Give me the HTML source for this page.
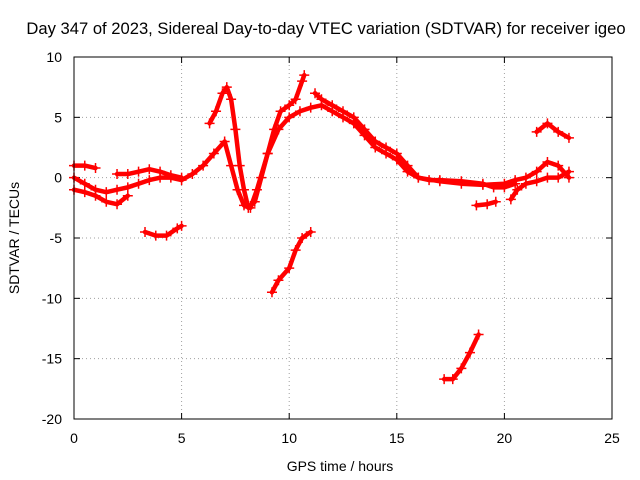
<!DOCTYPE html>
<html><head><meta charset="utf-8"><style>
body{margin:0;background:#fff}
svg{display:block;font-family:"Liberation Sans",sans-serif}
</style></head><body>
<svg width="640" height="480">
<rect width="640" height="480" fill="#fff"/>
<text x="326" y="34" text-anchor="middle" font-size="16.6">Day 347 of 2023, Sidereal Day-to-day VTEC variation (SDTVAR) for receiver igeo</text>
<text x="340" y="471" text-anchor="middle" font-size="14">GPS time / hours</text>
<text transform="translate(19,238) rotate(-90)" text-anchor="middle" font-size="14">SDTVAR / TECUs</text>
<g id="grid"></g><g id="ticks"></g><g id="marks"></g>
<rect x="74" y="57" width="538" height="362" fill="none" stroke="#000"/>
</svg>
<script>
const xTicks=[0,5,10,15,20,25];
const yTicks=[10,5,0,-5,-10,-15,-20];
const t1=[[0,1.0],[0.5,1.0],[1,0.8]];
const t2=[[0,0],[0.5,-0.5],[1,-1],[1.5,-1.2],[2,-1],[2.5,-0.8],[3,-0.5],[3.5,-0.2],[4,0],[4.5,0],[5,-0.2],[5.5,0.3],[6,1],[6.5,2],[7,3],[7.3,1],[7.6,-1],[7.9,-2.3],[8.2,-2.5],[8.5,-1],[9,2],[9.5,4],[10,5],[10.5,5.5],[11,5.8],[11.5,6],[12,5.5],[12.5,5],[13,4.5],[13.5,3.5],[14,2.5],[14.5,2],[15,1.5],[15.5,0.5],[16,0],[17,-0.3],[18,-0.5],[19,-0.6],[20,-0.5],[20.5,-0.2],[21,0],[21.5,0.5],[22,1.3],[22.5,1],[23,0]];
const t3=[[0,-1],[0.5,-1.2],[1,-1.5],[1.5,-2],[2,-2.2],[2.5,-1.5]];
const t4=[[2,0.3],[2.5,0.3],[3,0.5],[3.5,0.7],[4,0.5],[4.5,0.2],[5,0]];
const t5=[[3.3,-4.5],[3.8,-4.8],[4.3,-4.8],[4.8,-4.2],[5,-4]];
const t6=[[6.3,4.5],[6.6,5.5],[6.9,7],[7.1,7.5],[7.3,6.5],[7.5,4],[7.7,1],[7.9,-1],[8.1,-2.5],[8.4,-2],[8.7,0],[9,2],[9.3,4],[9.6,5.5],[10,6],[10.3,6.5],[10.6,8],[10.7,8.5]];
const t7=[[9.2,-9.5],[9.5,-8.5],[10,-7.5],[10.3,-6],[10.6,-5],[11,-4.5]];
const t8=[[11.2,7],[11.5,6.5],[12,6],[12.5,5.5],[13,5],[13.5,4],[14,3],[14.5,2.5],[15,2],[15.5,1],[16,0],[16.5,-0.2],[17,-0.2],[18,-0.3],[19,-0.5],[19.5,-0.8],[20,-0.8],[20.5,-0.5]];
const t9=[[17.2,-16.7],[17.6,-16.7],[18,-15.8],[18.4,-14.5],[18.8,-13]];
const t10=[[18.7,-2.3],[19.2,-2.2],[19.6,-2]];
const t11=[[20.3,-1.8],[20.6,-1],[21,-0.5],[21.5,-0.3],[22,0],[22.5,0],[23,0.5]];
const t12=[[21.5,3.8],[22,4.5],[22.5,3.8],[23,3.3]];
const tracks=[t1,t2,t3,t4,t5,t6,t7,t8,t9,t10,t11,t12];
const X=v=>74+(v-0)/25*538;
const Y=v=>419-(v+20)/30*362;
const NS="http://www.w3.org/2000/svg";
const grid=document.getElementById('grid'),ticks=document.getElementById('ticks'),marks=document.getElementById('marks');
function mk(tag,attrs,parent){const e=document.createElementNS(NS,tag);for(const k in attrs)e.setAttribute(k,attrs[k]);parent.appendChild(e);return e;}
xTicks.forEach(t=>{
 if(t>0&&t<25){const g=mk('line',{x1:X(t),x2:X(t),y1:57,y2:419,stroke:'#a0a0a0','stroke-dasharray':'1,3'},grid);
 
 }
 mk('line',{x1:X(t),x2:X(t),y1:419,y2:413,stroke:'#000'},ticks);
 mk('line',{x1:X(t),x2:X(t),y1:57,y2:63,stroke:'#000'},ticks);
 const l=mk('text',{x:X(t),y:443,'text-anchor':'middle','font-size':'14'},ticks);l.textContent=t;
 
 
});
yTicks.forEach(t=>{
 if(t>-20&&t<10){const g=mk('line',{x1:74,x2:612,y1:Y(t),y2:Y(t),stroke:'#a0a0a0','stroke-dasharray':'1,3'},grid);
 
 }
 mk('line',{x1:74,x2:80,y1:Y(t),y2:Y(t),stroke:'#000'},ticks);
 mk('line',{x1:612,x2:606,y1:Y(t),y2:Y(t),stroke:'#000'},ticks);
 const l=mk('text',{x:62,y:Y(t)+5,'text-anchor':'end','font-size':'14'},ticks);l.textContent=t;
 
 
});
tracks.forEach((tr,i)=>{
 const p=mk('polyline',{points:tr.map(d=>X(d[0])+','+Y(d[1])).join(' '),fill:'none',stroke:'#f00','stroke-width':'4.5','stroke-linejoin':'round','stroke-linecap':'round'},marks);
 
 
 tr.forEach(d=>{
  const m=mk('path',{d:`M${X(d[0])-5},${Y(d[1])}h10M${X(d[0])},${Y(d[1])-5}v10`,stroke:'#f00','stroke-width':'1.5'},marks);
  
  
 });
});
</script>
</body></html>
